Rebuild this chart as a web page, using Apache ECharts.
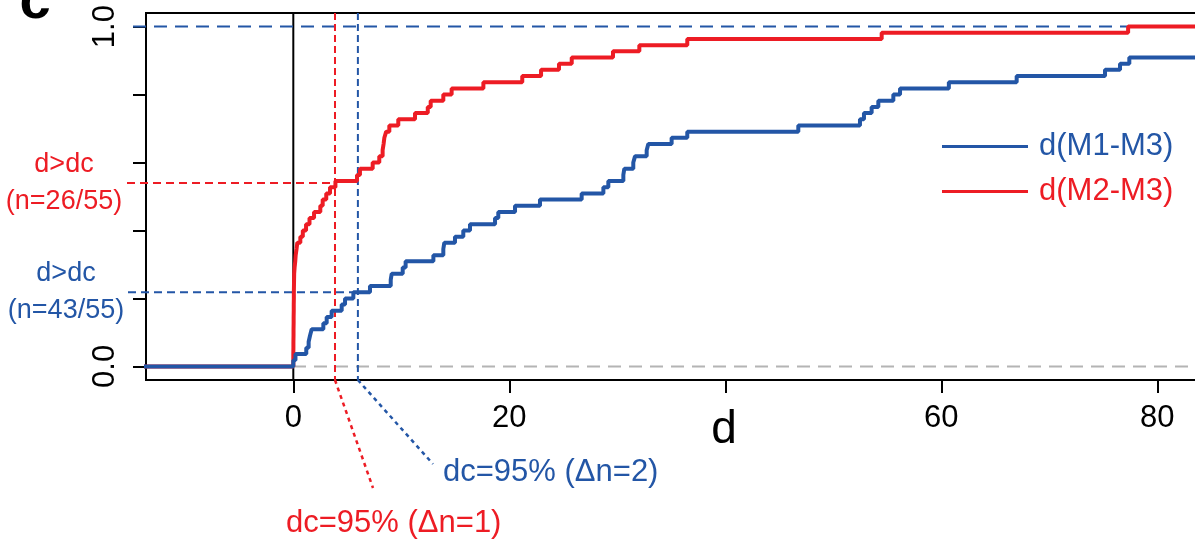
<!DOCTYPE html>
<html>
<head>
<meta charset="utf-8">
<script src="https://cdn.jsdelivr.net/npm/echarts@6/dist/echarts.min.js"></script>
<style>
  html, body { margin: 0; padding: 0; background: #fff; }
  #chart { width: 1195px; height: 542px; }
</style>
</head>
<body>
<div id="chart"></div>
<script>
(function () {
	'use strict';

	// ECDF of 55 distances each; x = where the step happens, n = count reached there
	var nTotal = 55;

	var redX = [-20, 0.00, 0.00, 0.01, 0.01, 0.02, 0.02, 0.03, 0.03, 0.04, 0.04, 0.05, 0.05, 0.06, 0.07, 0.08,
		0.12, 0.18, 0.22, 0.30, 0.37, 0.65, 0.88, 1.18, 1.50, 1.92, 2.50, 2.72, 3.05, 3.40, 3.90, 5.90, 6.17,
		7.35, 7.96, 8.27, 8.36, 8.43, 8.60, 8.89, 9.72, 11.27, 12.45, 12.72, 13.89, 14.66, 17.60, 21.20, 22.94,
		24.60, 25.78, 29.60, 32.04, 36.48, 54.48, 77.30, 100];
	var redN = [0, 1, 2, 3, 4, 5, 6, 7, 8, 9, 10, 11, 12, 13, 14, 15,
		16, 17, 18, 19, 20, 21, 22, 23, 24, 25, 26, 27, 28, 29, 30, 31, 32,
		33, 34, 35, 36, 37, 38, 39, 40, 41, 42, 43, 44, 45, 46, 47, 48,
		49, 50, 51, 52, 53, 54, 55, 55];

	var blueX = [-20, 0.00, 0.20, 1.20, 1.42, 1.55, 1.70, 2.78, 3.09, 3.55, 4.48, 4.79, 5.56, 7.10, 9.02,
		9.11, 10.13, 10.40, 12.97, 13.89, 13.98, 14.97, 15.74, 16.36, 18.68, 18.98, 20.53, 22.84, 26.70,
		28.71, 29.17, 30.56, 30.65, 31.48, 31.64, 32.72, 32.87, 35.03, 36.48, 46.76, 52.47, 52.84, 53.55,
		54.17, 55.56, 56.18, 60.70, 66.98, 75.16, 76.55, 77.41, 100];
	var blueN = [0, 1, 2, 3, 4, 5, 6, 7, 8, 9, 10, 11, 12, 13, 14,
		15, 16, 17, 18, 19, 20, 21, 22, 23, 24, 25, 26, 27, 28,
		29, 30, 31, 32, 33, 34, 35, 36, 37, 38, 39, 40, 41, 42,
		43, 44, 45, 46, 47, 48, 49, 50, 50];

	var xTicks = [0, 20, 40, 60, 80];
	var xTickLabels = [0, 20, 60, 80];
	var yTicks = [0, 0.2, 0.4, 0.6, 0.8, 1.0];
	var yTickLabels = [0, 1.0];

	// cut-off distances and ECDF level read at them
	var dcRed = 3.86;
	var dcBlue = 5.98;
	var levelRed = 0.54;
	var levelBlue = 0.218;

	var xMin = -13.64, xMax = 93.4;
	var yMin = -0.04, yMax = 1.04;

	var RED = '#ED1C24';
	var BLUE = '#2356A6';
	var GREY = '#B4B4B4';
	var FONT = '"Liberation Sans", Arial, Helvetica, sans-serif';

	var pairs = function (xs, ns) {
		var out = [];
		for (var i = 0; i < xs.length; i++) {
			out.push([xs[i], ns[i] / nTotal]);
		}
		return out;
	};

	var chart = echarts.init(document.getElementById('chart'), null, { renderer: 'canvas' });

	var option = {
		animation: false,
		backgroundColor: '#fff',
		grid: {
			left: 146, top: 13, width: 1156, height: 367,
			outerBoundsMode: 'none', containLabel: false,
			show: true, borderColor: '#000', borderWidth: 2, backgroundColor: 'transparent'
		},
		xAxis: {
			type: 'value', min: xMin, max: xMax,
			name: 'd', nameLocation: 'middle', nameGap: 27, nameMoveOverlap: false,
			nameTextStyle: { fontSize: 46, color: '#000', fontFamily: FONT },
			axisLine: { show: true, onZero: false, lineStyle: { color: '#000', width: 2 } },
			axisTick: { show: true, customValues: xTicks, length: 13, lineStyle: { color: '#000', width: 2 } },
			axisLabel: { customValues: xTickLabels, margin: 23, fontSize: 31, color: '#000', fontFamily: FONT },
			splitLine: { show: false }
		},
		yAxis: {
			type: 'value', min: yMin, max: yMax,
			axisLine: { show: true, onZero: false, lineStyle: { color: '#000', width: 2 } },
			axisTick: { show: true, customValues: yTicks, length: 13, lineStyle: { color: '#000', width: 2 } },
			axisLabel: {
				customValues: yTickLabels, rotate: 90, margin: 25, fontSize: 31, color: '#000', fontFamily: FONT,
				formatter: function (v) { return v.toFixed(1); }
			},
			splitLine: { show: false }
		},
		legend: {
			orient: 'vertical', left: 942, top: 124, padding: 0,
			itemWidth: 86, itemHeight: 3, itemGap: 0, icon: 'rect',
			textStyle: { fontSize: 31, fontFamily: FONT, lineHeight: 45, padding: [0, 0, 0, 6] },
			data: [
				{ name: 'd(M1-M3)', textStyle: { color: BLUE } },
				{ name: 'd(M2-M3)', textStyle: { color: RED } }
			]
		},
		series: [
			{
				name: 'd(M2-M3)', type: 'line', step: 'end', showSymbol: false, symbol: 'none',
				color: RED, lineStyle: { color: RED, width: 4 },
				data: pairs(redX, redN)
			},
			{
				name: 'd(M1-M3)', type: 'line', step: 'end', showSymbol: false, symbol: 'none',
				color: BLUE, lineStyle: { color: BLUE, width: 4 },
				data: pairs(blueX, blueN)
			}
		]
	};

	chart.setOption(option);

	var px = function (x, y) {
		return chart.convertToPixel({ gridIndex: 0 }, [x, y]);
	};

	var line = function (a, b, color, width, dash, z) {
		return {
			type: 'line', z: z, silent: true,
			shape: { x1: a[0], y1: a[1], x2: b[0], y2: b[1] },
			style: { stroke: color, lineWidth: width, lineDash: dash }
		};
	};

	var text = function (str, x, y, color, size, align, extra) {
		var st = {
			text: str, x: x, y: y, fill: color, fontSize: size, fontFamily: FONT,
			align: align, verticalAlign: 'middle'
		};
		for (var k in extra) { st[k] = extra[k]; }
		return { type: 'text', z: 5, silent: true, style: st };
	};

	var left = px(xMin, 0)[0];
	var redEnd = [373, 488];
	var blueEnd = [433, 464];

	var graphics = [
		line(px(0, yMax), px(0, yMin), '#000', 2, null, 1),
		line(px(xMin, 0), px(xMax, 0), GREY, 2, [13, 8], 1),
		line([left - 13, px(0, 1)[1]], px(xMax, 1), BLUE, 2, [13, 8], 3),
		line(px(dcRed, yMax), px(dcRed, yMin), RED, 2, [7, 4], 3),
		line(px(dcBlue, yMax), px(dcBlue, yMin), BLUE, 2, [7, 4], 3),
		line([left - 19, px(0, levelRed)[1]], px(dcRed, levelRed), RED, 2, [8, 5], 3),
		line([left - 18, px(0, levelBlue)[1]], px(dcBlue, levelBlue), BLUE, 2, [8, 5], 3),
		line(px(dcRed, yMin), redEnd, RED, 2.5, [4, 4], 3),
		line(px(dcBlue, yMin), blueEnd, BLUE, 2.5, [4, 4], 3),
		text('d>dc\n(n=26/55)', 64, px(0, levelRed)[1], RED, 27, 'center', { lineHeight: 37 }),
		text('d>dc\n(n=43/55)', 66, px(0, levelBlue)[1], BLUE, 27, 'center', { lineHeight: 37 }),
		text('dc=95% (\u0394n=2)', 443, 472, BLUE, 31, 'left'),
		text('dc=95% (\u0394n=1)', 286, 523, RED, 31, 'left'),
		text('c', 35, 3, '#000', 56, 'center', { fontWeight: 'bold' })
	];

	chart.setOption({ graphic: { elements: graphics } });
}());
</script>
</body>
</html>
